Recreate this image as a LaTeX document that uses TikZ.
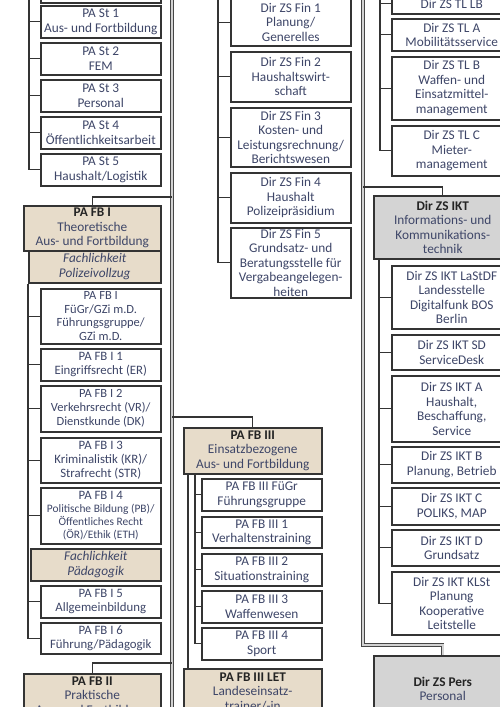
\documentclass[tikz,border=0pt]{standalone}
\usepackage{fontspec}
\setmainfont{Carlito}
\usetikzlibrary{positioning,shadows}
\definecolor{boxbeige}{RGB}{231,220,202}
\definecolor{boxgray}{RGB}{212,212,212}
\definecolor{txtblue}{RGB}{62,70,104}
\definecolor{txtdark}{RGB}{36,36,36}
\definecolor{linedark}{RGB}{52,52,52}
\tikzset{unit/.style={draw=linedark, line width=1.5pt, fill=white, text=txtblue,
    align=center, anchor=north west, inner sep=1pt, minimum width=120,
    font=\fontsize{13.3}{14.5}\selectfont,
    drop shadow={shadow xshift=0.9pt, shadow yshift=-0.9pt, fill=black!35, opacity=1}}}
\tikzset{headfb/.style={unit, fill=boxbeige, minimum width=137}}
\tikzset{headzs/.style={unit, fill=boxgray, minimum width=138}}
\tikzset{fach/.style={unit, fill=boxbeige, font=\fontsize{13.3}{14.5}\selectfont\itshape}}
\tikzset{branch/.style={draw=linedark, line width=1.2pt}}
\tikzset{trunk/.style={draw=gray!55!black, line width=0.9pt, double=gray!35, double distance=1.5pt}}
\newcommand{\unithead}[1]{\textcolor{txtdark}{\textbf{#1}}}
\begin{document}
\begin{tikzpicture}[x=1pt,y=-1pt]
\useasboundingbox (0,0) rectangle (500,707);
\clip (0,0) rectangle (500,707);

% roots of the lines that come from above
\coordinate (ltrk) at (172,-10);
\coordinate (lbot) at (172,720);
\coordinate (rtrk) at (363,-10);
\coordinate (strt) at (29,-10);
\coordinate (finrt) at (218,-10);
\coordinate (tlrt) at (380,-10);

% PA St
\node[unit, minimum height=32] (st0) at (40,-30) {};
\node[unit, minimum height=32] (st1) at (40,5) {PA St 1\\Aus- und Fortbildung};
\node[unit, minimum height=32] (st2) at (40,42) {PA St 2\\FEM};
\node[unit, minimum height=32] (st3) at (40,79) {PA St 3\\Personal};
\node[unit, minimum height=32] (st4) at (40,116) {PA St 4\\Öffentlichkeitsarbeit};
\node[unit, minimum height=32] (st5) at (40,153) {PA St 5\\Haushalt/Logistik};

% PA FB I
\node[headfb, minimum height=45] (fbI) at (23,205) {\unithead{PA FB I}\\Theoretische\\Aus- und Fortbildung};
\node[fach, minimum width=132, minimum height=32] (fachpol) at (28,250) {Fachlichkeit\\Polizeivollzug};
\node[unit, minimum height=55, font=\fontsize{12.5}{13.5}\selectfont] (fbIg) at (40,288) {PA FB I\\FüGr/GZi m.D.\\Führungsgruppe/\\GZi m.D.};
\node[unit, minimum height=32, font=\fontsize{12.8}{14}\selectfont] (fbI1) at (40,348) {PA FB I 1\\Eingriffsrecht (ER)};
\node[unit, minimum height=46, font=\fontsize{12.5}{14}\selectfont] (fbI2) at (40,385) {PA FB I 2\\Verkehrsrecht (VR)/\\Dienstkunde (DK)};
\node[unit, minimum height=45, font=\fontsize{12.8}{14}\selectfont] (fbI3) at (40,437) {PA FB I 3\\Kriminalistik (KR)/\\Strafrecht (STR)};
\node[unit, minimum height=56, font=\fontsize{11.4}{13}\selectfont] (fbI4) at (40,487) {\fontsize{12.8}{13}\selectfont PA FB I 4\\Politische Bildung (PB)/\\Öffentliches Recht\\(ÖR)/Ethik (ETH)};
\node[fach, minimum width=130, minimum height=32] (fachpaed) at (30,548) {Fachlichkeit\\Pädagogik};
\node[unit, minimum height=32, font=\fontsize{12.8}{14}\selectfont] (fbI5) at (40,585) {PA FB I 5\\Allgemeinbildung};
\node[unit, minimum height=31, font=\fontsize{12.8}{14}\selectfont] (fbI6) at (40,622) {PA FB I 6\\Führung/Pädagogik};

% PA FB II
\node[headfb, minimum height=46] (fbII) at (23,673) {\unithead{PA FB II}\\Praktische\\Aus- und Fortbildung};

% Dir ZS Fin
\node[unit, minimum height=47] (fin1) at (230,-2) {Dir ZS Fin 1\\Planung/\\Generelles};
\node[unit, minimum height=50] (fin2) at (230,51) {Dir ZS Fin 2\\Haushaltswirt-\\schaft};
\node[unit, minimum height=59] (fin3) at (230,107) {Dir ZS Fin 3\\Kosten- und\\Leistungsrechnung/\\Berichtswesen};
\node[unit, minimum height=50] (fin4) at (230,172) {Dir ZS Fin 4\\Haushalt\\Polizeipräsidium};
\node[unit, minimum height=70] (fin5) at (230,227) {Dir ZS Fin 5\\Grundsatz- und\\Beratungsstelle für\\Vergabeangelegen-\\heiten};

% PA FB III
\node[headfb, minimum width=138, minimum height=46] (fbIII) at (183,427) {\unithead{PA FB III}\\Einsatzbezogene\\Aus- und Fortbildung};
\node[unit, minimum height=32] (fbIIIg) at (201,478) {PA FB III FüGr\\Führungsgruppe};
\node[unit, minimum height=31] (fbIII1) at (201,516) {PA FB III 1\\Verhaltenstraining};
\node[unit, minimum height=32] (fbIII2) at (201,553) {PA FB III 2\\Situationstraining};
\node[unit, minimum height=32] (fbIII3) at (201,590) {PA FB III 3\\Waffenwesen};
\node[unit, minimum height=32] (fbIII4) at (201,627) {PA FB III 4\\Sport};
\node[headfb, minimum width=138, minimum height=46] (fblet) at (183,668) {\unithead{PA FB III LET}\\Landeseinsatz-\\trainer/-in};

% Dir ZS TL
\node[unit, minimum height=20] (tllb) at (391,-7) {Dir ZS TL LB};
\node[unit, minimum height=32] (tla) at (391,18) {Dir ZS TL A\\Mobilitätsservice};
\node[unit, minimum height=63] (tlb) at (391,56) {Dir ZS TL B\\Waffen- und\\Einsatzmittel-\\management};
\node[unit, minimum height=50] (tlc) at (391,125) {Dir ZS TL C\\Mieter-\\management};

% Dir ZS IKT
\node[headzs, minimum height=63] (ikt) at (373,195) {\unithead{Dir ZS IKT}\\Informations- und\\Kommunikations-\\technik};
\node[unit, minimum height=63] (iktdf) at (391,265) {Dir ZS IKT LaStDF\\Landesstelle\\Digitalfunk BOS\\Berlin};
\node[unit, minimum height=35] (iktsd) at (391,334) {Dir ZS IKT SD\\ServiceDesk};
\node[unit, minimum height=66] (ikta) at (391,375) {Dir ZS IKT A\\Haushalt,\\Beschaffung,\\Service};
\node[unit, minimum height=36] (iktb) at (391,446) {Dir ZS IKT B\\Planung, Betrieb};
\node[unit, minimum height=37] (iktc) at (391,487) {Dir ZS IKT C\\POLIKS, MAP};
\node[unit, minimum height=36] (iktd) at (391,529) {Dir ZS IKT D\\Grundsatz};
\node[unit, minimum height=63] (iktk) at (391,571) {Dir ZS IKT KLSt\\Planung\\Kooperative\\Leitstelle};

% Dir ZS Pers
\node[headzs, minimum height=66] (pers) at (373,655) {\unithead{Dir ZS Pers}\\Personal};

% trunks
\draw[trunk] (ltrk) -- (lbot);
\draw[trunk] (rtrk) |- ([yshift=10pt]pers.north) -- (pers.north);

% heads on the trunks
\draw[branch] (fbI.north) |- ([yshift=8pt]fbI.north -| ltrk);
\draw[branch] (fbIII.north) |- ([yshift=10pt]fbIII.north -| ltrk);
\draw[branch] (fbII.north) |- ([yshift=10pt]fbII.north -| ltrk);
\draw[branch] (ikt.north) |- ([yshift=8pt]ikt.north -| rtrk);
\draw[branch] ([xshift=5pt]fbIII.south west) -- ([xshift=5pt]fblet.north west);

% units below their heads
\draw[branch] (strt) |- (st5.west);
\foreach \n in {st0,st1,st2,st3,st4}
  \draw[branch] (\n.west) -- (\n.west -| strt);
\draw[branch] (fachpol.south west) |- (fbI6.west);
\foreach \n in {fbIg,fbI1,fbI2,fbI3,fbI4,fbI5}
  \draw[branch] (\n.west) -- (\n.west -| fachpol.south west);
\draw[branch] (finrt) |- (fin5.west);
\foreach \n in {fin1,fin2,fin3,fin4}
  \draw[branch] (\n.west) -- (\n.west -| finrt);
\draw[branch] ([xshift=12pt]fbIII.south west) coordinate (fb3rt) |- (fbIII4.west);
\foreach \n in {fbIIIg,fbIII1,fbIII2,fbIII3}
  \draw[branch] (\n.west) -- (\n.west -| fb3rt);
\draw[branch] (tlrt) |- (tlc.west);
\foreach \n in {tllb,tla,tlb}
  \draw[branch] (\n.west) -- (\n.west -| tlrt);
\draw[branch] ([xshift=6pt]ikt.south west) coordinate (iktrt) |- (iktk.west);
\foreach \n in {iktdf,iktsd,ikta,iktb,iktc,iktd}
  \draw[branch] (\n.west) -- (\n.west -| iktrt);
\end{tikzpicture}
\end{document}
